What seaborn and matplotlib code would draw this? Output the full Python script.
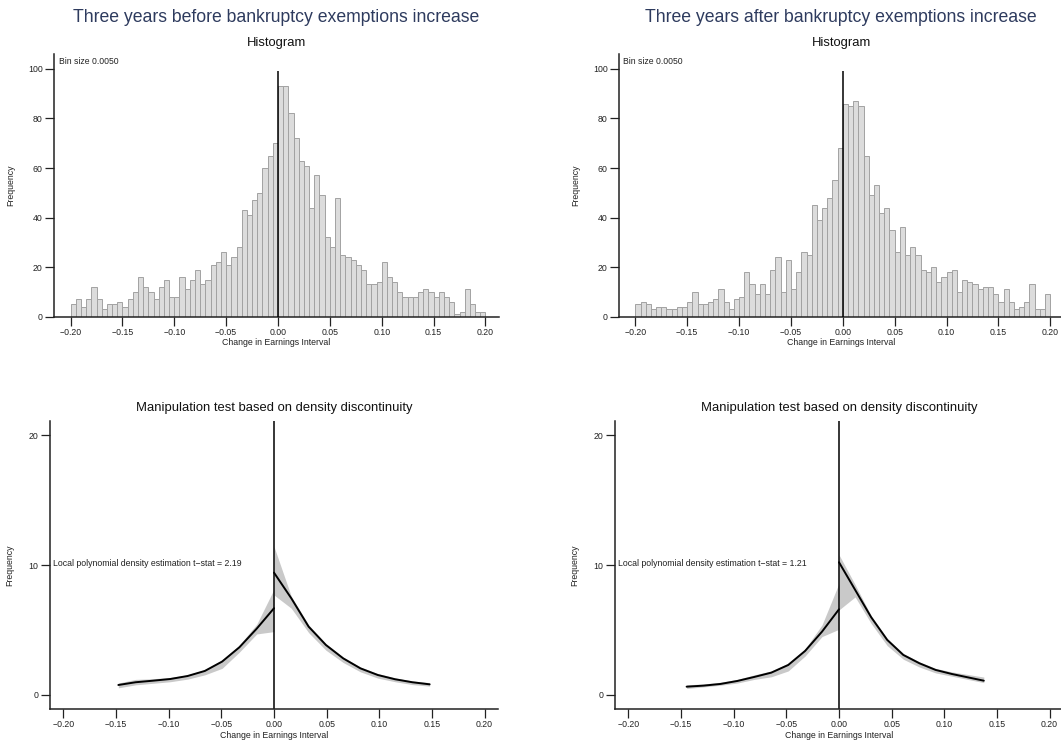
import numpy as np
import pandas as pd
import matplotlib
matplotlib.use("Agg")
import matplotlib.pyplot as plt
import seaborn as sns

# ---- data ----
bin_width = 0.005
bin_lefts = np.round(np.arange(-0.200, 0.200, bin_width), 3)

counts_before = [5, 7, 4, 7, 12, 7, 3, 5, 5, 6,
                 4, 7, 10, 16, 12, 10, 7, 12, 15, 8,
                 8, 16, 11, 15, 19, 13, 15, 21, 22, 26,
                 21, 24, 28, 43, 41, 47, 50, 60, 65, 70,
                 93, 93, 82, 72, 63, 61, 44, 57, 49, 32,
                 28, 48, 25, 24, 23, 21, 19, 13, 13, 14,
                 22, 16, 14, 10, 8, 8, 8, 10, 11, 10,
                 8, 10, 8, 6, 1, 2, 11, 5, 2, 2]

counts_after = [5, 6, 5, 3, 4, 4, 3, 3, 4, 4,
                6, 10, 5, 5, 6, 7, 11, 6, 3, 7,
                8, 18, 13, 9, 13, 9, 19, 24, 10, 23,
                11, 18, 26, 25, 45, 39, 44, 48, 55, 68,
                86, 85, 87, 85, 65, 49, 53, 42, 44, 35,
                26, 36, 25, 28, 25, 19, 18, 20, 14, 16,
                18, 19, 10, 15, 14, 13, 11, 12, 12, 9,
                6, 11, 6, 3, 4, 6, 13, 3, 3, 9]

# density estimates (before)
b_xl = [-0.1478, -0.1314, -0.1150, -0.0985, -0.0821, -0.0657, -0.0493, -0.0329, -0.0164, 0.0]
b_fl = [0.77, 0.98, 1.10, 1.23, 1.46, 1.85, 2.57, 3.67, 5.11, 6.68]
b_lo_l = [0.55, 0.78, 0.90, 1.02, 1.22, 1.55, 2.05, 3.30, 4.70, 4.88]
b_hi_l = [0.92, 1.20, 1.25, 1.35, 1.55, 1.95, 2.70, 3.85, 5.45, 8.14]
b_xr = [0.0, 0.0164, 0.0329, 0.0493, 0.0657, 0.0821, 0.0985, 0.1150, 0.1314, 0.1478]
b_fr = [9.42, 7.45, 5.26, 3.85, 2.82, 2.05, 1.54, 1.21, 0.98, 0.82]
b_lo_r = [7.70, 6.68, 4.80, 3.45, 2.50, 1.78, 1.30, 1.02, 0.80, 0.68]
b_hi_r = [11.43, 7.60, 5.40, 3.95, 2.92, 2.15, 1.65, 1.32, 1.08, 0.95]

# density estimates (after)
a_xl = [-0.1447, -0.1286, -0.1125, -0.0965, -0.0804, -0.0643, -0.0482, -0.0322, -0.0161, 0.0]
a_fl = [0.64, 0.72, 0.85, 1.08, 1.39, 1.72, 2.31, 3.39, 4.88, 6.60]
a_lo_l = [0.50, 0.62, 0.75, 0.92, 1.20, 1.40, 1.85, 3.00, 4.50, 5.06]
a_hi_l = [0.78, 0.85, 0.98, 1.20, 1.55, 1.85, 2.45, 3.55, 5.40, 8.60]
a_xr = [0.0, 0.0153, 0.0306, 0.0458, 0.0611, 0.0764, 0.0917, 0.1070, 0.1222, 0.1375]
a_fr = [10.22, 8.10, 5.98, 4.24, 3.08, 2.44, 1.93, 1.62, 1.36, 1.10]
a_lo_r = [6.55, 7.55, 5.50, 3.80, 2.75, 2.15, 1.70, 1.45, 1.20, 0.95]
a_hi_r = [10.80, 8.50, 6.10, 4.35, 3.20, 2.55, 2.05, 1.78, 1.58, 1.38]

tstat_before = "2.19"
tstat_after = "1.21"

x_ticks = [-0.20, -0.15, -0.10, -0.05, 0.00, 0.05, 0.10, 0.15, 0.20]
x_ticklabels = ["\u22120.20", "\u22120.15", "\u22120.10", "\u22120.05", "0.00", "0.05", "0.10", "0.15", "0.20"]
hist_yticks = [0, 20, 40, 60, 80, 100]
dens_yticks = [0, 10, 20]

titles = ["Three years before bankruptcy exemptions increase",
          "Three years after bankruptcy exemptions increase"]

# ---- style ----
sns.set_style("ticks")
plt.rcParams['font.family'] = ['Liberation Sans', 'DejaVu Sans']
plt.rcParams['axes.linewidth'] = 1.1
plt.rcParams['xtick.major.width'] = 0.9
plt.rcParams['ytick.major.width'] = 0.9
plt.rcParams['xtick.major.size'] = 6.7
plt.rcParams['ytick.major.size'] = 6.7
plt.rcParams['xtick.major.pad'] = 1.5
plt.rcParams['ytick.major.pad'] = 1.5
plt.rcParams['xtick.color'] = '#222222'
plt.rcParams['ytick.color'] = '#222222'
plt.rcParams['axes.edgecolor'] = '#222222'

W, H = 1061, 742
fig = plt.figure(figsize=(W / 100, H / 100), dpi=100)


def px_axes(left, top, right, bottom):
    return fig.add_axes([left / W, 1 - bottom / H, (right - left) / W, (bottom - top) / H])


def style_axes(ax, yticks, label_x):
    sns.despine(ax=ax)
    ax.set_xticks(x_ticks)
    ax.set_xticklabels(x_ticklabels, fontsize=6.3)
    ax.set_yticks(yticks)
    ax.set_yticklabels([str(t) for t in yticks], fontsize=6.3)
    ax.set_xlabel("Change in Earnings Interval", fontsize=6.3, labelpad=1, color='#222222')
    ax.set_ylabel("Frequency", fontsize=6.3, color='#222222')
    ax.yaxis.set_label_coords(label_x, 0.5)


hist_pos = [(54.2, 54, 498.6, 316.7), (619, 54, 1063.4, 316.7)]
dens_pos = [(49.7, 421, 498.3, 709), (614.7, 421, 1063.3, 709)]
hist_counts = [counts_before, counts_after]
dens_data = [
    (b_xl, b_fl, b_lo_l, b_hi_l, b_xr, b_fr, b_lo_r, b_hi_r, tstat_before),
    (a_xl, a_fl, a_lo_l, a_hi_l, a_xr, a_fr, a_lo_r, a_hi_r, tstat_after),
]

for i in range(2):
    # histogram panel
    ax = px_axes(*hist_pos[i])
    df = pd.DataFrame({"x": bin_lefts + bin_width / 2, "n": hist_counts[i]})
    sns.histplot(data=df, x="x", weights="n", binwidth=bin_width, binrange=(-0.2, 0.2),
                 color='#dcdcdc', edgecolor='#a2a2a2', linewidth=0.7, alpha=1, ax=ax)
    ax.vlines(0, 0, 99, color='black', lw=1.1, zorder=5)
    ax.set_xlim(-0.2158, 0.2127)
    ax.set_ylim(0, 106)
    style_axes(ax, hist_yticks, -0.088)
    ax.text(0.01, 0.973, "Bin size 0.0050", transform=ax.transAxes, fontsize=6.2,
            va='center', ha='left', color='#222222')
    ax.text(0.5, 1.0407, "Histogram", transform=ax.transAxes, fontsize=9.4,
            ha='center', va='center', color='#111111')
    cx = (hist_pos[i][0] + hist_pos[i][2]) / 2
    fig.text(cx / W, 1 - 17.6 / H, titles[i], fontsize=12.7, color='#2e3b5e',
             ha='center', va='center')

    # density panel
    xl, fl, lol, hil, xr, fr, lor, hir, tstat = dens_data[i]
    ax2 = px_axes(*dens_pos[i])
    ax2.fill_between(xl, lol, hil, color='#c9c9c9', lw=0)
    ax2.fill_between(xr, lor, hir, color='#c9c9c9', lw=0)
    sns.lineplot(x=xl, y=fl, color='black', lw=1.4, ax=ax2)
    sns.lineplot(x=xr, y=fr, color='black', lw=1.4, ax=ax2)
    ax2.axvline(0, color='black', lw=1.1)
    ax2.set_xlim(-0.213, 0.213)
    ax2.set_ylim(-1.08, 21.1)
    style_axes(ax2, dens_yticks, -0.078)
    ax2.text(-0.2098, 10.1, "Local polynomial density estimation t\u2212stat = " + tstat,
             fontsize=6.3, ha='left', va='center', color='#222222')
    ax2.text(0.5, 1 + (421 - 408.5) / 288, "Manipulation test based on density discontinuity",
             transform=ax2.transAxes, fontsize=9.4, ha='center', va='center', color='#111111')

fig.savefig("out.png", dpi=100)
